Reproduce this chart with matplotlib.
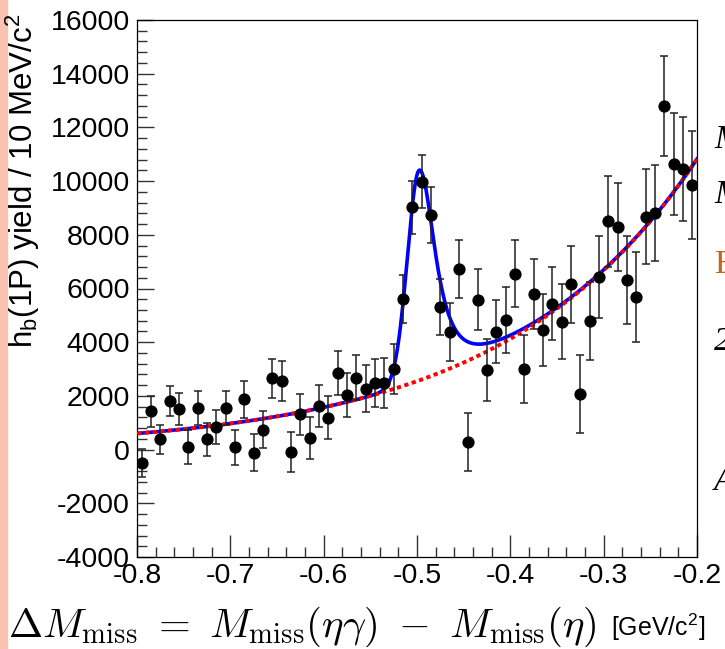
import matplotlib
matplotlib.use("Agg")
import matplotlib.pyplot as plt
import numpy as np
from matplotlib.ticker import MultipleLocator
from matplotlib.patches import Rectangle

# ── Binned h_b(1P) yield: 60 bins of 10 MeV/c^2 between -0.8 and -0.2 ───────
bin_lo, bin_w, n_bins = -0.8, 0.01, 60

yields = [-490, 1430, 380, 1810, 1510, 85, 1550, 380, 830, 1540,
          85, 1870, -115, 740, 2650, 2570, -80, 1310, 440, 1620,
          1190, 2850, 2020, 2680, 2270, 2480, 2480, 3010, 5600, 9020,
          9980, 8740, 5300, 4370, 6740, 290, 5580, 2970, 4390, 4820,
          6550, 3010, 5810, 4440, 5440, 4760, 6160, 2070, 4790, 6430,
          8500, 8300, 6320, 5680, 8680, 8820, 12810, 10640, 10450, 9860]

errors = [520, 570, 540, 560, 590, 630, 620, 600, 630, 640,
          660, 680, 690, 690, 710, 745, 740, 760, 790, 790,
          790, 830, 820, 825, 870, 900, 920, 930, 900, 990,
          1000, 1030, 1050, 1075, 1080, 1080, 1140, 1160, 1180, 1220,
          1250, 1270, 1300, 1340, 1360, 1390, 1430, 1470, 1445, 1520,
          1690, 1630, 1640, 1690, 1760, 1780, 1860, 1890, 1950, 2010]

# ── Fit result ───────────────────────────────────────────────────────────────
bkg_norm = 600.0          # background yield at -0.8
bkg_slope = 4.82          # exponential slope per GeV/c^2
sig_peak = 7830.0         # signal height
sig_mean = -0.4975
sig_sigma_left = 0.0128   # gaussian core, low side
sig_gamma_right = 0.026   # power-law tail, high side

x_lim = (-0.8, -0.2)
y_lim = (-4000, 16000)

plt.rcParams.update({
    "font.family": ["Liberation Sans", "DejaVu Sans"],
    "mathtext.fontset": "custom",
    "mathtext.rm": "Liberation Sans",
    "mathtext.it": "Liberation Sans:italic",
    "axes.unicode_minus": False,
})

fig = plt.figure(figsize=(7.25, 6.49), dpi=100)
ax = fig.add_axes([137 / 725, 92 / 649, 560 / 725, 537 / 649])

centres = bin_lo + bin_w * (np.arange(n_bins) + 0.5)

xs = np.linspace(x_lim[0], x_lim[1], 800)
bkg = bkg_norm * np.exp(bkg_slope * (xs - x_lim[0]))
d = xs - sig_mean
sig = np.where(d < 0,
               sig_peak * np.exp(-0.5 * (d / sig_sigma_left) ** 2),
               sig_peak * (1 + (d / sig_gamma_right) ** 2) ** -1.5)

ax.plot(xs, bkg + sig, color="#0000ff", lw=2.6, zorder=2)
ax.plot(xs, bkg, color="#ff0000", lw=2.8, linestyle=(0, (1.1, 0.9)), zorder=3)

ax.errorbar(centres, yields, yerr=errors, fmt="o", color="black",
            ms=7.8, elinewidth=1.1, capsize=3, capthick=1.1, ecolor="#222222",
            zorder=4)

ax.set_xlim(*x_lim)
ax.set_ylim(*y_lim)
ax.xaxis.set_major_locator(MultipleLocator(0.1))
ax.xaxis.set_minor_locator(MultipleLocator(0.02))
ax.yaxis.set_major_locator(MultipleLocator(2000))
ax.yaxis.set_minor_locator(MultipleLocator(400))
ax.xaxis.set_major_formatter(plt.FuncFormatter(lambda v, p: f"{v:.1f}"))
ax.tick_params(which="both", direction="in", top=False, right=False,
               labelsize=20.5, width=1.0, color="#333333")
ax.tick_params(axis="x", which="major", length=16, pad=4)
ax.tick_params(axis="x", which="minor", length=7)
ax.tick_params(axis="y", which="major", length=12, pad=5)
ax.tick_params(axis="y", which="minor", length=7)
for sp in ax.spines.values():
    sp.set_linewidth(0.9)

# axis titles
fig.text(23 / 725, 1 - 14 / 649, r"h$_{\mathrm{b}}$(1P) yield / 10 MeV/c$^{2}$",
         rotation=90, ha="center", va="top", fontsize=22.5)
fig.text(8 / 725, 12 / 649,
         r"$\Delta M_{\mathrm{miss}}\ =\ M_{\mathrm{miss}}(\eta\gamma)\ -\ M_{\mathrm{miss}}(\eta)$",
         math_fontfamily="cm", ha="left", va="baseline", fontsize=29.5)
fig.text(611 / 725, 13 / 649, r"[GeV/c$^{2}$]", ha="left", va="baseline",
         fontsize=18)

# slide background around the picture: pink strip and clipped glyphs
fig.patches.append(Rectangle((0, 0), 7 / 725, 1, transform=fig.transFigure,
                             color="#fac3b1", zorder=0))
for yy, ch, col in [(140, "M", "black"), (195, "M", "black"),
                    (265, "B", "#c0661e"), (342, "2", "black"),
                    (482, "A", "black")]:
    fig.text(714 / 725, 1 - yy / 649, ch, ha="left", va="center",
             fontsize=24, color=col, family="Liberation Serif",
             style="italic" if col == "black" else "normal")

fig.savefig("out.png", dpi=100)
